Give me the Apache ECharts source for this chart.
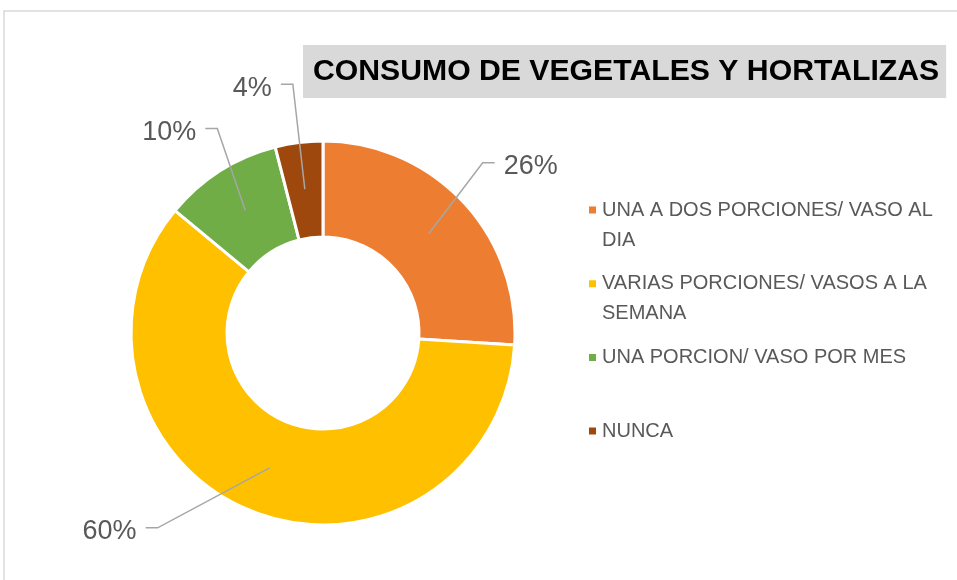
<!DOCTYPE html>
<html>
<head>
<meta charset="utf-8">
<script src="https://cdn.jsdelivr.net/npm/echarts@6/dist/echarts.min.js"></script>
<style>
  html, body { margin: 0; padding: 0; background: #fff; }
  #chart { width: 957px; height: 580px; }
</style>
</head>
<body>
<div id="chart"></div>
<script>
// datos del grafico
const categories = ['UNA A DOS PORCIONES/ VASO AL DIA', 'VARIAS PORCIONES/ VASOS A LA SEMANA', 'UNA PORCION/ VASO POR MES', 'NUNCA'];
const legendText = ['UNA A DOS PORCIONES/ VASO AL\nDIA', 'VARIAS PORCIONES/ VASOS A LA\nSEMANA', 'UNA PORCION/ VASO POR MES', 'NUNCA'];
const values = [26, 60, 10, 4];
const colors = ['#ED7D31', '#FFC000', '#70AD47', '#9E480E'];

// layout
const CX = 323, CY = 333;
const R_IN = 96, R_OUT = 192, R_LINE = 145;
// codo de la linea guia, relativo al punto de inicio
const elbow = [[54, -71], [-112, 60], [-28, -82], [-12, -105]];
const FONT = 'Liberation Sans';
const LH = 30;

let myChart = echarts.init(document.getElementById('chart'));

// una leyenda por item, espaciadas igual (como Excel)
let legends = categories.map((name, i) => {
  let twoLines = legendText[i].indexOf('\n') >= 0;
  let center = 210 + i * 73.7;
  return {
    data: [name],
    orient: 'vertical',
    left: 587,
    top: twoLines ? center - LH * 1.5 : center - LH / 2,
    padding: 0,
    icon: 'rect',
    itemWidth: 9,
    itemHeight: 9,
    selectedMode: false,
    // linea vacia arriba para que el marcador quede en la primera linea
    formatter: () => twoLines ? '\n' + legendText[i] : legendText[i],
    textStyle: {
      fontFamily: FONT,
      fontSize: 20,
      color: '#595959',
      lineHeight: LH
    }
  };
});

let pieData = categories.map((name, i) => ({ name: name, value: values[i] }));

let option = {
  animation: false,
  color: colors,
  title: {
    text: 'CONSUMO DE VEGETALES Y HORTALIZAS',
    left: 303,
    top: 45,
    padding: [10, 7, 10, 10],
    backgroundColor: '#D9D9D9',
    textStyle: {
      fontFamily: FONT,
      fontSize: 30.2,
      fontWeight: 'bold',
      color: '#000',
      lineHeight: 33
    }
  },
  legend: legends,
  graphic: [{
    type: 'rect',
    shape: { x: 4, y: 11, width: 1200, height: 900 },
    style: { fill: 'none', stroke: '#D9D9D9', lineWidth: 1.5 },
    silent: true,
    z: -1
  }],
  series: [{
    name: 'consumo',
    type: 'pie',
    center: [CX, CY],
    radius: [R_IN, R_OUT],
    startAngle: 90,
    clockwise: true,
    z: 2,
    emphasis: { scale: false },
    itemStyle: { borderColor: '#fff', borderWidth: 3 },
    label: { show: false },
    labelLine: { show: false },
    data: pieData
  }, {
    // serie transparente solo para las etiquetas (lineas desde dentro del anillo)
    name: 'etiquetas',
    type: 'pie',
    center: [CX, CY],
    radius: [0, R_LINE],
    startAngle: 90,
    clockwise: true,
    z: 5,
    silent: true,
    avoidLabelOverlap: false,
    itemStyle: { color: 'rgba(0,0,0,0)', borderWidth: 0 },
    emphasis: { disabled: true },
    label: {
      show: true,
      position: 'outside',
      formatter: '{c}%',
      fontFamily: FONT,
      fontSize: 27,
      color: '#595959'
    },
    labelLine: {
      show: true,
      length: 20,
      length2: 12,
      lineStyle: { color: '#A6A6A6', width: 1.5 }
    },
    labelLayout: function (params) {
      let pts = params.labelLinePoints;
      if (!pts) return {};
      let i = params.dataIndex;
      let p0 = pts[0];
      let p1 = [p0[0] + elbow[i][0], p0[1] + elbow[i][1]];
      let right = elbow[i][0] > 0;
      let p2 = [p1[0] + (right ? 12 : -12), p1[1]];
      return {
        x: p2[0] + (right ? 9 : -9),
        y: p2[1] + 4,
        align: right ? 'left' : 'right',
        verticalAlign: 'middle',
        labelLinePoints: [p0, p1, p2]
      };
    },
    data: pieData
  }]
};

myChart.setOption(option);
</script>
</body>
</html>
